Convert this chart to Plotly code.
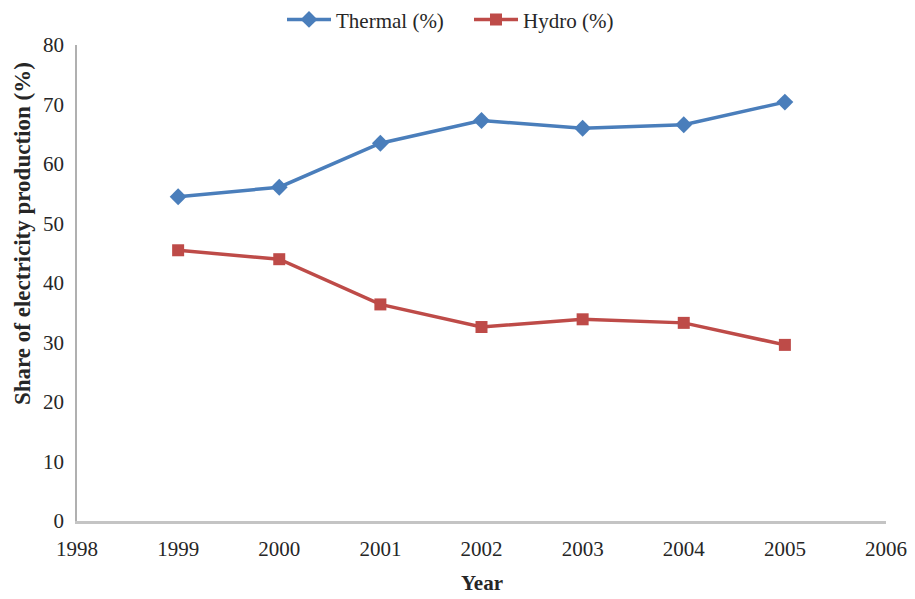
import plotly.graph_objects as go

# Share of electricity production by source
years = [1999, 2000, 2001, 2002, 2003, 2004, 2005]
thermal = [54.5, 56.1, 63.5, 67.3, 66.0, 66.6, 70.4]
hydro = [45.5, 44.0, 36.4, 32.6, 33.9, 33.3, 29.6]

x_ticks = [1998, 1999, 2000, 2001, 2002, 2003, 2004, 2005, 2006]
y_ticks = [0, 10, 20, 30, 40, 50, 60, 70, 80]

FONT = "Liberation Serif"
TXT = "#262626"

fig = go.Figure()
fig.add_trace(go.Scatter(
    x=years, y=thermal, name="Thermal (%)", mode="lines+markers",
    line=dict(color="#4a7ebb", width=3.5),
    marker=dict(symbol="diamond", size=13, color="#4a7ebb"),
))
fig.add_trace(go.Scatter(
    x=years, y=hydro, name="Hydro (%)", mode="lines+markers",
    line=dict(color="#be4b48", width=3.5),
    marker=dict(symbol="square", size=12, color="#be4b48"),
))

fig.update_layout(
    width=915, height=599,
    margin=dict(l=77, r=29, t=45, b=78, autoexpand=False),
    paper_bgcolor="white", plot_bgcolor="white",
    font=dict(family=FONT, size=20, color=TXT),
    showlegend=True,
    legend=dict(
        orientation="h", x=0.2534, xanchor="left", y=1.053, yanchor="middle",
        font=dict(family=FONT, size=21, color=TXT),
        itemwidth=44, entrywidth=128, bgcolor="rgba(0,0,0,0)",
    ),
    xaxis=dict(
        range=[1998, 2006], tickvals=x_ticks, ticktext=[str(v) for v in x_ticks],
        showgrid=False, zeroline=False,
        showline=True, linecolor="#c4c4c4", linewidth=3,
        ticks="", ticklabelstandoff=7,
        tickfont=dict(family=FONT, size=21, color=TXT),
    ),
    yaxis=dict(
        range=[0, 80], tickvals=y_ticks,
        showgrid=False, zeroline=False,
        showline=True, linecolor="#b0b0b0", linewidth=1.5,
        ticks="", ticklabelstandoff=7,
        tickfont=dict(family=FONT, size=21, color=TXT),
    ),
    annotations=[
        dict(text="<b>Year</b>", xref="paper", yref="paper",
             x=0.5, y=-0.13, xanchor="center", yanchor="middle",
             showarrow=False, font=dict(family=FONT, size=21, color=TXT)),
        dict(text="<b>Share of electricity production (%)</b>",
             xref="paper", yref="paper", x=-0.068, y=0.605,
             xanchor="center", yanchor="middle", textangle=-90,
             showarrow=False, font=dict(family=FONT, size=23, color=TXT)),
    ],
)

fig.write_html("out.html")
